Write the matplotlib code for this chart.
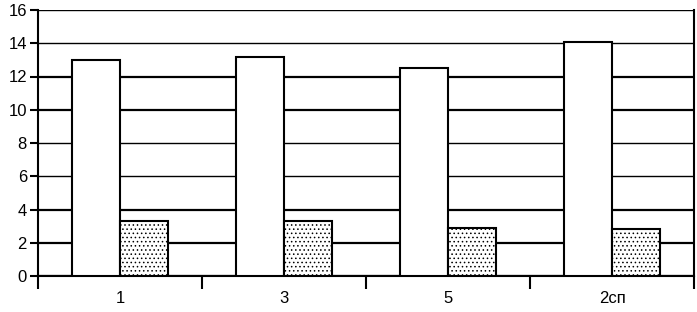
import numpy as np
import matplotlib.pyplot as plt

plt.rcParams['font.family'] = ['Liberation Sans', 'DejaVu Sans']
plt.rcParams['hatch.linewidth'] = 0.6

# donnees
categories = ['1', '3', '5', '2сп']
serie_blanche = [13.0, 13.15, 12.5, 14.05]
serie_points = [3.3, 3.3, 2.9, 2.85]
graduations = [0, 2, 4, 6, 8, 10, 12, 14, 16]
epaisseurs = [1.6, 1.6, 1.6, 1.0, 1.0, 1.6, 1.6, 1.0, 1.0]

fig = plt.figure(figsize=(6.97, 3.12), dpi=100)
ax = fig.add_axes([38/697, 36/312, 656/697, 266/312])

x = np.arange(len(categories))
w = 0.29

# grille horizontale
for g, lw in zip(graduations, epaisseurs):
    ax.axhline(g, color='black', lw=lw, zorder=1)

ax.bar(x - w, serie_blanche, w, align='edge', color='white',
       edgecolor='black', lw=1.5, zorder=3)
ax.bar(x, serie_points, w, align='edge', color='white',
       edgecolor='black', lw=1.5, hatch='....', zorder=3)

ax.set_xlim(-0.5, len(categories) - 0.5)
ax.set_ylim(0, 16)
ax.set_yticks(graduations)
ax.set_xticks(x)
ax.set_xticklabels(categories)
ax.set_xticks(np.arange(len(categories) + 1) - 0.5, minor=True)

ax.tick_params(axis='y', length=6, width=1.5, labelsize=12, pad=2)
ax.tick_params(axis='x', which='major', length=0, labelsize=12, pad=11)
ax.tick_params(axis='x', which='minor', length=9, width=1.5)

for s in ['left', 'right', 'bottom']:
    ax.spines[s].set_linewidth(1.5)
ax.spines['top'].set_visible(False)

fig.savefig('out.png', dpi=100)
